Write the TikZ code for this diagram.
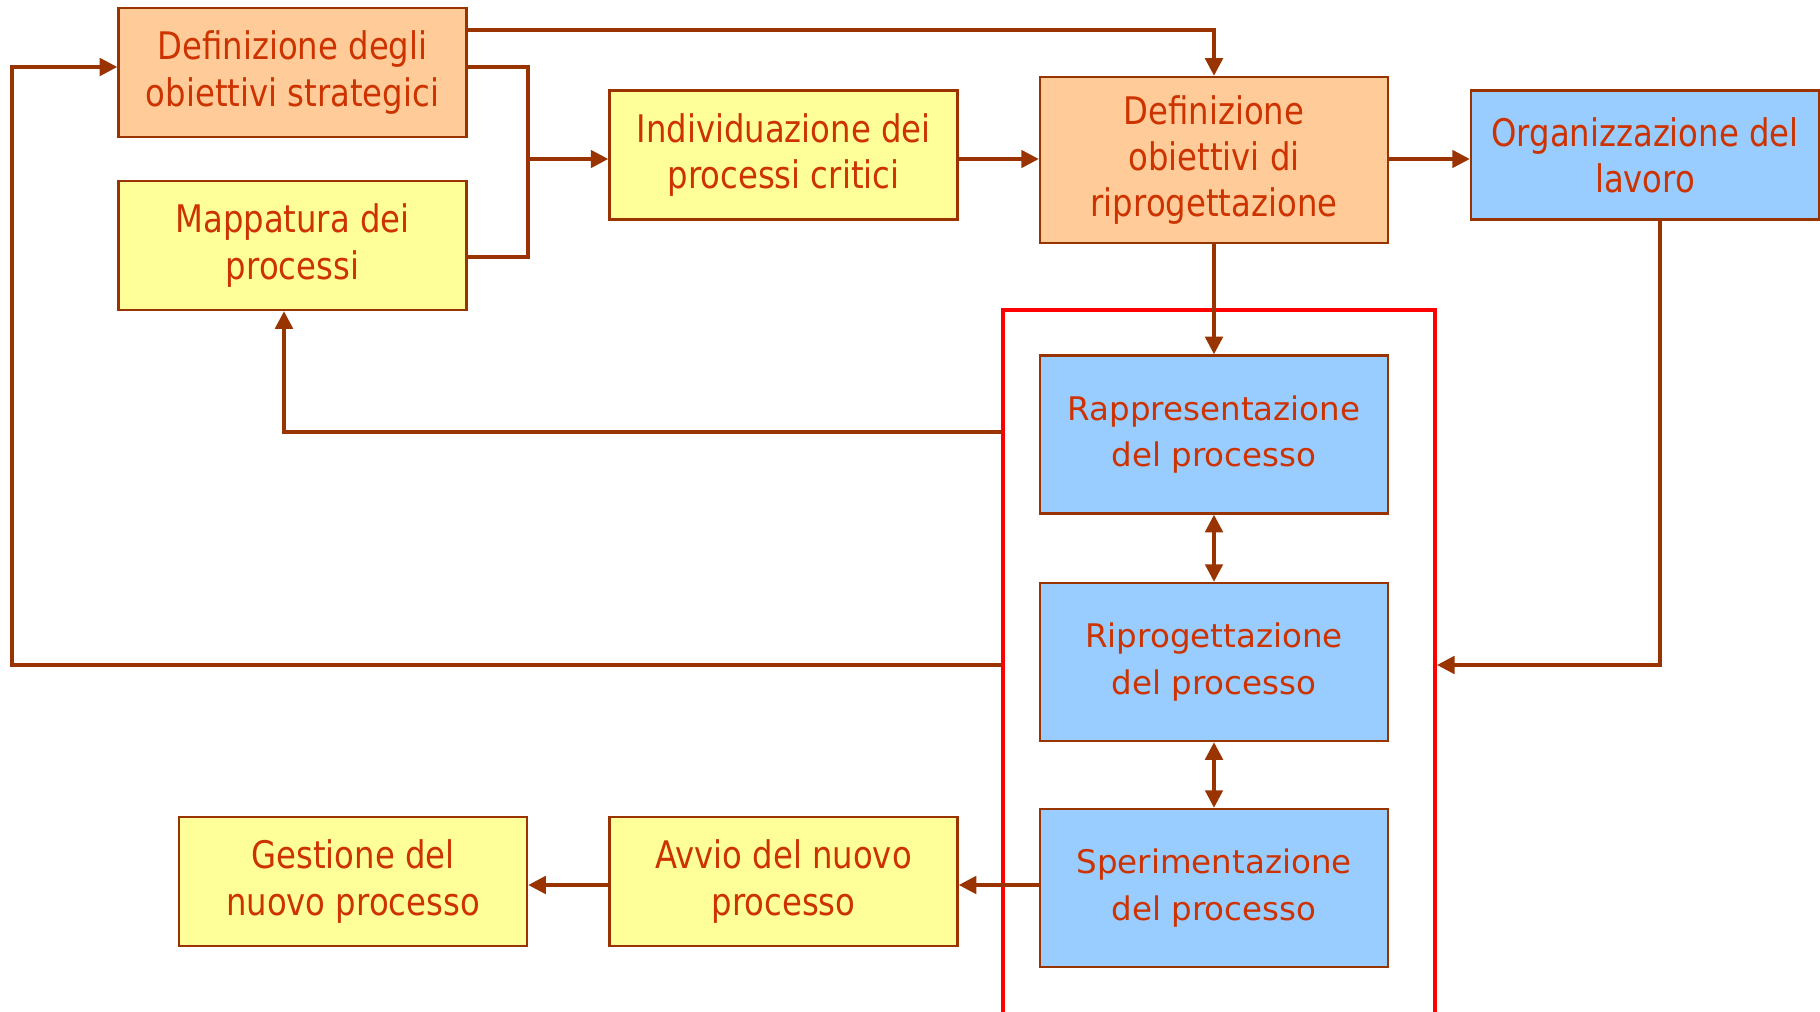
\documentclass[tikz,border=0pt]{standalone}
\usepackage{fontspec}
\setmainfont{DejaVu Sans}[FakeStretch=0.85]
\newfontfamily\wide{DejaVu Sans}
\usetikzlibrary{positioning,arrows.meta}

\definecolor{linea}{HTML}{993300}
\definecolor{testo}{HTML}{CC3300}
\definecolor{arancio}{HTML}{FFCC99}
\definecolor{giallo}{HTML}{FFFF99}
\definecolor{azzurro}{HTML}{99CCFF}

\tikzset{
  box/.style={draw=linea,line width=1pt,text=testo,align=center,
    minimum width=139.2pt,minimum height=51.6pt,inner sep=0pt,
    font=\fontsize{15.2}{18.5}\selectfont},
  orange/.style={box,fill=arancio},
  yellow/.style={box,fill=giallo},
  blue/.style={box,fill=azzurro,minimum height=63.2pt,
    font=\wide\fontsize{13}{18.5}\selectfont},
  conn/.style={draw=linea,line width=1.35pt},
}

\begin{document}
\begin{tikzpicture}[x=0.4pt,y=-0.4pt,>={Triangle[length=7pt,width=7pt]}]
\useasboundingbox (0,0) rectangle (1820,1012);

\node[orange] (strat) at (292.5,72.5) {Definizione degli\\obiettivi strategici};
\node[yellow] (mapp) at (292.5,245.5) {Mappatura dei\\processi};
\node[yellow] (indiv) at (783.5,155) {Individuazione dei\\processi critici};
\node[orange,minimum height=66.4pt] (defrip) at (1214,160) {Definizione\\obiettivi di\\riprogettazione};
\node[blue,minimum height=51.6pt,font=\fontsize{15.2}{18.5}\selectfont] (organ) at (1645,155) {Organizzazione del\\lavoro};

% gruppo centrale
\node[blue] (rappr) at (1214,434.5) {Rappresentazione\\del processo};
\node[blue] (riprog) at (1214,662) {Riprogettazione\\del processo};
\node[blue] (sperim) at (1214,888) {Sperimentazione\\del processo};
\node[draw=red,line width=1.6pt,minimum width=172.8pt,minimum height=281.6pt,inner sep=0pt] (gruppo) at (1219,662) {};

\node[yellow] (avvio) at (783.5,881.5) {Avvio del nuovo\\processo};
\node[yellow] (gest) at (353,881.5) {Gestione del\\nuovo processo};

\coordinate (nodo) at (528,159);

\draw[conn,->] (strat.east |- 0,30) -| (defrip.north);
\draw[conn] (strat.east |- 0,67) -| (nodo);
\draw[conn] (mapp.east |- 0,257) -| (nodo);
\draw[conn,->] (nodo) -- (indiv.west |- nodo);
\draw[conn,->] (indiv.east |- nodo) -- (defrip.west |- nodo);
\draw[conn,->] (defrip.east |- nodo) -- (organ.west |- nodo);
\draw[conn,->] (defrip.south) -- (rappr.north);
\draw[conn,<->] (rappr.south) -- (riprog.north);
\draw[conn,<->] (riprog.south) -- (sperim.north);

%ritorni
\draw[conn,->] (gruppo.west |- 0,432) -| (mapp.south -| 284,0);
\draw[conn,->] (gruppo.west |- 0,665) -| (12,67) -- (strat.west |- 0,67);
\draw[conn,->] (organ.south -| 1660,0) |- (gruppo.east |- 0,665);

\draw[conn,->] (sperim.west |- 0,885) -- (avvio.east |- 0,885);
\draw[conn,->] (avvio.west |- 0,885) -- (gest.east |- 0,885);
\end{tikzpicture}
\end{document}
